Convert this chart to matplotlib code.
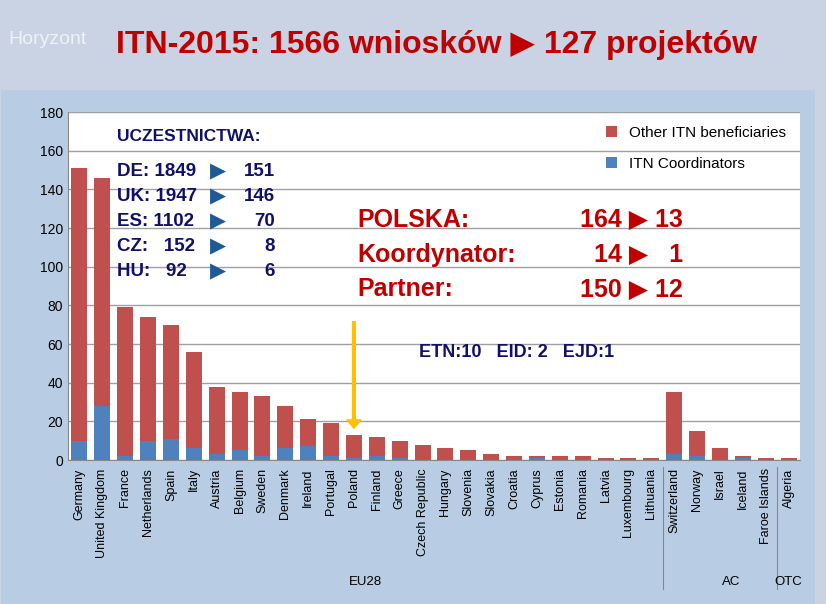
import matplotlib.pyplot as plt
import numpy as np

plt.rcParams["font.family"] = ["Liberation Sans", "DejaVu Sans"]

countries = ["Germany", "United Kingdom", "France", "Netherlands", "Spain", "Italy", "Austria",
             "Belgium", "Sweden", "Denmark", "Ireland", "Portugal", "Poland", "Finland", "Greece",
             "Czech Republic", "Hungary", "Slovenia", "Slovakia", "Croatia", "Cyprus", "Estonia",
             "Romania", "Latvia", "Luxembourg", "Lithuania", "Switzerland", "Norway", "Israel",
             "Iceland", "Faroe Islands", "Algeria"]
totals = [151, 146, 79, 74, 70, 56, 38, 35, 33, 28, 21, 19, 13, 12, 10, 8, 6, 5, 3, 2, 2, 2,
          2, 1, 1, 1, 35, 15, 6, 2, 1, 1]
coordinators = [10, 28, 2, 10, 11, 6, 3, 5, 2, 6, 7, 2, 1, 2, 1, 0, 0, 0, 0, 0, 1, 0,
                0, 0, 0, 0, 3, 2, 0, 1, 0, 0]
others = [t - c for t, c in zip(totals, coordinators)]

W, H = 826, 604
fig = plt.figure(figsize=(W / 100, H / 100), dpi=100)
fig.patch.set_facecolor("#c9d3e3")

# slide body panel
panel = fig.add_axes([1 / W, 0, 1 - 12 / W, 1 - 90 / H])
panel.set_facecolor("#b8cce4")
panel.set_xticks([]); panel.set_yticks([])
for s in panel.spines.values():
    s.set_visible(False)

ax = fig.add_axes([68 / W, 1 - 460 / H, (800 - 68) / W, (460 - 112) / H])
ax.set_facecolor("white")
x = np.arange(len(countries))
ax.bar(x, coordinators, 0.7, color="#4f81bd", label="ITN Coordinators")
ax.bar(x, others, 0.7, bottom=coordinators, color="#c0504d", label="Other ITN beneficiaries")
ax.set_xlim(-0.5, len(countries) - 0.5)
ax.set_ylim(0, 180)
ax.set_yticks(range(0, 181, 20))
ax.tick_params(axis="y", labelsize=10, length=0)
ax.set_xticks(x)
ax.set_xticklabels(countries, rotation=90, fontsize=9)
ax.tick_params(axis="x", length=0, pad=6)
ax.yaxis.grid(True, color="#a0a0a0", lw=1)
ax.set_axisbelow(True)
for s in ["top", "right"]:
    ax.spines[s].set_visible(False)
ax.spines["left"].set_color("#888888")
ax.spines["bottom"].set_color("#888888")
h, l = ax.get_legend_handles_labels()
ax.legend(h[::-1], l[::-1], loc="upper right", frameon=False, fontsize=11,
          handlelength=0.7, handleheight=0.7, labelspacing=1.1)

# group labels
for pos, name in [(12.5, "EU28"), (28.5, "AC"), (31, "OTC")]:
    ax.text(pos, -0.36, name, transform=ax.get_xaxis_transform(), ha="center", fontsize=9.5)
for b in [25.5, 30.5]:
    ax.plot([b, b], [-0.02, -0.37], transform=ax.get_xaxis_transform(), color="#888888",
            lw=0.8, clip_on=False)

# title
fig.text(0.01, 1 - 40 / H, "Horyzont", color="white", fontsize=14, va="center", alpha=0.7)
fig.text(0.14, 1 - 45 / H, "ITN-2015: 1566 wniosków \u25b6 127 projektów", color="#c00000",
         fontsize=23, fontweight="bold", va="center")

# annotations
navy = "#10106a"
ax.text(0.067, 0.93, "UCZESTNICTWA:", transform=ax.transAxes, fontsize=12.5, fontweight="bold",
        color=navy, va="center")
rows = [("DE: 1849", "151"), ("UK: 1947", "146"), ("ES: 1102", "70"), ("CZ:   152", "8"),
        ("HU:   92", "6")]
for i, (a, b) in enumerate(rows):
    yy = 0.83 - i * 0.072
    ax.text(0.067, yy, a, transform=ax.transAxes, fontsize=13.5, fontweight="bold", color=navy,
            va="center")
    ax.text(0.194, yy, "\u25b6", transform=ax.transAxes, fontsize=15, color="#1f5a96",
            va="center", family="DejaVu Sans")
    ax.text(0.283, yy, b, transform=ax.transAxes, fontsize=13.5, fontweight="bold", color=navy,
            ha="right", va="center")
red = "#c00000"
for i, (a, b) in enumerate([("POLSKA:", "164 \u25b6 13"), ("Koordynator:", "14 \u25b6   1"),
                            ("Partner:", "150 \u25b6 12")]):
    yy = 0.69 - i * 0.1
    ax.text(0.395, yy, a, transform=ax.transAxes, fontsize=18, fontweight="bold", color=red,
            va="center")
    ax.text(0.84, yy, b, transform=ax.transAxes, fontsize=18, fontweight="bold", color=red,
            ha="right", va="center")
ax.text(0.48, 0.31, "ETN:10   EID: 2   EJD:1", transform=ax.transAxes, fontsize=13,
        fontweight="bold", color=navy, va="center")
ax.annotate("", xy=(12, 15), xytext=(12, 73),
            arrowprops=dict(arrowstyle="simple,head_width=1,head_length=0.6", color="#ffc000"))

fig.savefig("out.png", dpi=100, facecolor=fig.get_facecolor())
